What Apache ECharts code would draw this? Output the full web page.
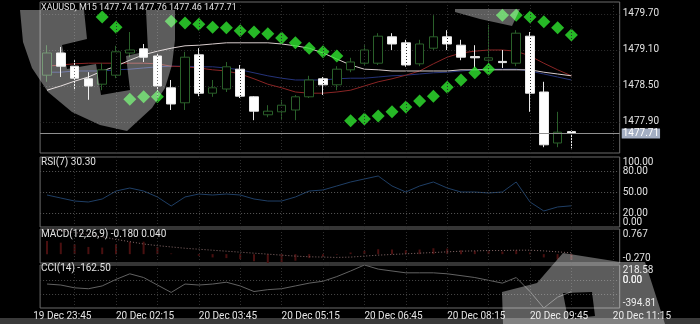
<!DOCTYPE html>
<html><head><meta charset="utf-8">
<script src="https://cdn.jsdelivr.net/npm/echarts@6/dist/echarts.min.js"></script>
<style>html,body{margin:0;padding:0;background:#000;}#c{width:700px;height:324px;}</style>
</head><body><div id="c"></div>
<script>
const symbolName = 'XAUUSD';
const timeframe = 'M15';
const times = ['19 Dec 23:45',
 '20 Dec 01:00','20 Dec 01:15','20 Dec 01:30','20 Dec 01:45','20 Dec 02:00','20 Dec 02:15','20 Dec 02:30','20 Dec 02:45',
 '20 Dec 03:00','20 Dec 03:15','20 Dec 03:30','20 Dec 03:45','20 Dec 04:00','20 Dec 04:15','20 Dec 04:30','20 Dec 04:45',
 '20 Dec 05:00','20 Dec 05:15','20 Dec 05:30','20 Dec 05:45','20 Dec 06:00','20 Dec 06:15','20 Dec 06:30','20 Dec 06:45',
 '20 Dec 07:00','20 Dec 07:15','20 Dec 07:30','20 Dec 07:45','20 Dec 08:00','20 Dec 08:15','20 Dec 08:30','20 Dec 08:45',
 '20 Dec 09:00','20 Dec 09:15','20 Dec 09:30','20 Dec 09:45','20 Dec 10:00','20 Dec 10:15','20 Dec 10:30','20 Dec 10:45',
 '20 Dec 11:00','20 Dec 11:15','20 Dec 11:30','20 Dec 11:45','20 Dec 12:00'];
const barTimes = times.slice(1, 43);

const opens = [1478.68,1479.05,1478.83,1478.62,1478.53,1478.68,1479.05,1479.12,1479.00,1478.47,
 1478.22,1479.02,1478.38,1478.45,1478.78,1478.32,1478.02,1478.07,1478.10,1478.32,
 1478.62,1478.52,1478.77,1478.88,1478.88,1479.32,1479.22,1478.87,1479.13,1479.32,
 1479.18,1478.99,1478.93,1478.91,1478.88,1479.33,1478.40,1477.55,1477.74];
const closes = [1479.05,1478.83,1478.63,1478.50,1478.77,1479.07,1479.10,1478.98,1478.50,1478.20,
 1478.98,1478.38,1478.47,1478.82,1478.33,1478.08,1478.08,1478.18,1478.32,1478.60,
 1478.52,1478.78,1478.90,1479.10,1479.33,1479.20,1478.85,1479.20,1479.32,1479.20,
 1478.98,1478.97,1478.97,1478.89,1479.38,1478.38,1477.52,1477.73,1477.71];
const highs = [1479.18,1479.15,1478.93,1478.73,1478.88,1479.17,1479.40,1479.20,1479.05,1478.60,
 1479.07,1479.13,1478.60,1478.90,1478.85,1478.33,1478.18,1478.27,1478.35,1478.67,
 1478.65,1478.83,1478.97,1479.18,1479.38,1479.38,1479.27,1479.27,1479.68,1479.43,
 1479.27,1479.18,1479.52,1479.10,1479.43,1479.40,1478.57,1478.07,1477.76];
const lows = [1478.57,1478.65,1478.43,1478.27,1478.43,1478.63,1478.98,1478.90,1478.32,1478.10,
 1478.10,1478.33,1478.32,1478.40,1478.30,1477.93,1477.98,1477.93,1477.93,1478.30,
 1478.35,1478.43,1478.73,1478.85,1478.85,1479.10,1478.82,1478.83,1479.10,1479.10,
 1478.93,1478.80,1478.68,1478.80,1478.83,1478.07,1477.48,1477.48,1477.46];

const maWhite = [1478.43,1478.50,1478.58,1478.65,1478.75,1478.83,1478.93,1479.02,1479.08,1479.13,
 1479.17,1479.18,1479.20,1479.22,1479.22,1479.22,1479.22,1479.20,1479.17,1479.13,
 1479.05,1478.95,1478.85,1478.78,1478.77,1478.75,1478.75,1478.75,1478.75,1478.75,
 1478.77,1478.77,1478.77,1478.77,1478.77,1478.77,1478.73,1478.70,1478.67];
const maRed = [1478.83,1478.85,1478.87,1478.88,1478.88,1478.88,1478.88,1478.88,1478.87,1478.83,
 1478.82,1478.80,1478.77,1478.75,1478.70,1478.62,1478.53,1478.47,1478.40,1478.38,
 1478.38,1478.40,1478.43,1478.50,1478.57,1478.62,1478.68,1478.75,1478.87,1478.98,
 1479.05,1479.08,1479.10,1479.10,1479.08,1479.00,1478.88,1478.77,1478.67];
const maBlue = [1478.73,1478.73,1478.75,1478.75,1478.75,1478.77,1478.78,1478.80,1478.82,1478.83,
 1478.83,1478.82,1478.82,1478.80,1478.77,1478.72,1478.67,1478.63,1478.60,1478.60,
 1478.60,1478.62,1478.63,1478.63,1478.65,1478.67,1478.68,1478.70,1478.72,1478.73,
 1478.75,1478.77,1478.78,1478.78,1478.78,1478.75,1478.70,1478.65,1478.60];
const sar = [null,null,null,null,1479.65,1479.48,1478.28,1478.32,1478.32,1479.58,
 1479.55,1479.53,1479.48,1479.47,1479.42,1479.40,1479.37,1479.30,1479.22,1479.13,
 1479.07,1479.00,1477.92,1477.95,1478.00,1478.07,1478.15,1478.25,1478.33,1478.48,
 1478.60,1478.72,1478.78,1479.68,1479.68,1479.65,1479.57,1479.47,1479.35];

const rsi = [45.7,41.4,37.1,35.7,40.0,51.4,55.7,51.4,42.9,30.0,
 42.9,47.1,45.7,47.1,45.7,40.0,37.1,37.1,42.9,51.4,
 52.9,58.6,64.3,68.6,72.9,58.6,50.0,58.6,64.3,55.7,
 50.0,50.0,48.6,50.0,64.3,35.7,22.9,28.6,30.3];
const macdMain = [0.40,0.35,0.30,0.22,0.20,0.30,0.38,0.38,0.22,0.02,
 0.00,-0.05,-0.10,-0.12,-0.15,-0.22,-0.27,-0.25,-0.20,-0.12,
 -0.08,-0.02,0.05,0.10,0.15,0.14,0.12,0.14,0.18,0.17,
 0.12,0.10,0.09,0.08,0.12,0.05,-0.10,-0.16,-0.18];
const macdSignal = [0.767,0.72,0.66,0.60,0.53,0.45,0.38,0.31,0.26,0.22,
 0.18,0.15,0.12,0.09,0.06,0.03,0.00,-0.03,-0.06,-0.08,
 -0.09,-0.10,-0.09,-0.06,-0.03,-0.01,0.01,0.03,0.05,0.07,
 0.09,0.10,0.11,0.11,0.12,0.12,0.10,0.07,0.04];
const cci = [-53,-67,-107,-120,-80,13,93,40,-67,-173,
 -53,-67,-53,-27,-80,-160,-133,-120,-80,-40,
 -13,53,133,218.58,160,133,107,107,107,93,
 67,40,0,-40,40,-160,-394.81,-240,-162.5];

const priceTicks = [1477.90, 1478.50, 1479.10, 1479.70];
const rsiEdgeTicks = [0, 100];
const rsiLevels = [20, 50, 80];
const macdTicks = [-0.270, 0.767];
const cciTicks = [-394.81, -200, 0, 218.58];
const cciZero = [0];
const cciLevels = [0, -200];
const gridCols = [2,5,8,11,14,17,20,23,26,29,32,35,38,41];

const FONT = 'Roboto, "Noto Sans", sans-serif';
const TXT = '#e2e2e2';
const BW = 13.8, L = 40.1, W = 42 * BW;
const last = closes.length - 1;
const CCI_MIN = -394.81, CCI_MAX = 218.58;

const candleData = opens.map((o, i) => [o, closes[i], lows[i], highs[i]]);
const vGrid = gridCols.map(i => ({ xAxis: barTimes[i] }));
const dimDot = { color: '#2e2e2e', type: [1, 2], width: 1 };

function yAx(grid, min, max, ticks, digits, edge, extra) {
  const lab = { customValues: ticks, color: TXT, fontSize: 10, fontFamily: FONT, margin: 3, hideOverlap: false,
      formatter: v => Number(v).toFixed(digits), showMinLabel: true, showMaxLabel: true };
  if (edge) { lab.verticalAlignMinLabel = 'bottom'; lab.verticalAlignMaxLabel = 'top'; }
  return Object.assign({
    gridIndex: grid, type: 'value', position: 'right', min: min, max: max,
    axisLine: { show: false, onZero: false }, axisTick: { show: false, customValues: ticks },
    splitLine: { show: false }, axisLabel: lab
  }, extra || {});
}
function xAx(grid) {
  return { gridIndex: grid, type: 'category', data: barTimes, boundaryGap: true,
    axisLine: { show: false, onZero: false }, axisTick: { show: false }, axisLabel: { show: false }, splitLine: { show: false } };
}

function keyhole(outer, holes) {
  let pts = outer.slice();
  pts.push(outer[0]);
  holes.forEach(h => {
    const r = h.slice().reverse();
    pts = pts.concat(r);
    pts.push(r[0]);
    pts.push(outer[0]);
  });
  return pts;
}
const WM = 'rgba(255,255,255,0.36)';
const logoLeft = keyhole(
  [[20,10],[175,10],[175,40],[172,65],[165,88],[152,108],[127,131],[100,125],[72,112],[48,92],[32,68],[23,42]],
  [[[84,10],[146,10],[148,51],[126,56],[130,90],[101,95],[96,64],[67,69],[62,45],[87,39]]]);
const logoBR = keyhole(
  [[502,292],[537,283],[563,253],[620,262],[645,262],[665,324],[503,324]],
  [[[563,293],[592,292],[595,316],[568,319]]]);
const logoTR = [[455,9],[520,9],[512,26],[480,19],[455,12]];

const chart = echarts.init(document.getElementById('c'), null, { renderer: 'canvas' });
chart.setOption({
  animation: false,
  backgroundColor: '#000',
  textStyle: { fontFamily: FONT },
  title: [
    { text: symbolName + ', ' + timeframe + ' ' + [opens[last], highs[last], lows[last], closes[last]].map(v => v.toFixed(2)).join(' '), left: 41, top: 3, fs: 9 },
    { text: 'RSI(7) ' + rsi[last].toFixed(2), left: 41, top: 157, fs: 10 },
    { text: 'MACD(12,26,9) ' + macdMain[last].toFixed(3) + ' ' + macdSignal[last].toFixed(3), left: 41, top: 229, fs: 10 },
    { text: 'CCI(14) ' + cci[last].toFixed(2), left: 41, top: 263, fs: 10 }
  ].map(t => Object.assign(t, { padding: 0, textStyle: { color: TXT, fontSize: t.fs, fontWeight: 'normal', fontFamily: FONT } })),
  grid: [
    { left: L, top: 2, width: W, height: 151 },
    { left: L, top: 157, width: W, height: 70 },
    { left: L, top: 229, width: W, height: 34 },
    { left: L, top: 265, width: W, height: 43 },
    { left: L - BW, top: 265, width: 46 * BW, height: 43, show: false },
    { left: L, top: 265, width: W, height: 43, show: false }
  ].map((g, i) => i < 4 ? Object.assign(g, { show: true, borderColor: '#6a6a6a', borderWidth: 1, backgroundColor: 'transparent' }) : g),
  xAxis: [xAx(0), xAx(1), xAx(2), xAx(3),
    { gridIndex: 4, type: 'category', data: times, boundaryGap: true,
      axisLine: { show: false, onZero: false }, axisTick: { show: false }, splitLine: { show: false },
      axisLabel: { interval: (idx) => idx % 6 === 0, align: 'left', color: TXT, fontSize: 10, fontFamily: FONT, margin: 3 } },
    xAx(5)
  ],
  yAxis: [
    yAx(0, 1477.3833, 1479.9, priceTicks, 2, false, { splitLine: { show: true, lineStyle: dimDot } }),
    yAx(1, 0, 100, rsiEdgeTicks, 2, true),
    yAx(2, -0.270, 0.767, macdTicks, 3, true),
    yAx(3, CCI_MIN, CCI_MAX, cciTicks, 2, true),
    { gridIndex: 4, type: 'value', show: false },
    yAx(1, 0, 100, rsiLevels, 2, false),
    yAx(5, CCI_MIN, CCI_MAX, cciZero, 2, false)
  ],
  graphic: [
    { type: 'rect', shape: { x: 0, y: 318, width: 700, height: 6 }, style: { fill: '#3a3a3a' }, z: -10, silent: true },
    { type: 'polygon', shape: { points: logoLeft }, style: { fill: WM }, z: 100, silent: true },
    { type: 'polygon', shape: { points: logoBR }, style: { fill: WM }, z: 100, silent: true },
    { type: 'polygon', shape: { points: logoTR }, style: { fill: WM }, z: 100, silent: true }
  ],
  series: [
    { type: 'line', xAxisIndex: 0, yAxisIndex: 0, data: maBlue, symbol: 'none', z: 2,
      lineStyle: { color: '#25337a', width: 1 },
      markLine: { silent: true, symbol: ['none', 'none'], label: { show: false }, lineStyle: dimDot, data: vGrid } },
    { type: 'line', xAxisIndex: 0, yAxisIndex: 0, data: maRed, symbol: 'none', z: 2,
      lineStyle: { color: '#8a2525', width: 1 } },
    { type: 'line', xAxisIndex: 0, yAxisIndex: 0, data: maWhite, symbol: 'none', z: 2,
      lineStyle: { color: '#d8cccc', width: 1 } },
    { type: 'candlestick', xAxisIndex: 0, yAxisIndex: 0, data: candleData, barWidth: 9, z: 3,
      itemStyle: { color: '#000', color0: '#ffffff', borderColor: '#2a602a', borderColor0: '#e8e8e8', borderWidth: 1 },
      markLine: { silent: true, symbol: ['none', 'none'],
        lineStyle: { color: '#8f8f8f', type: 'solid', width: 1 },
        label: { show: true, position: 'end', distance: 2, formatter: closes[last].toFixed(2),
          color: '#ffffff', backgroundColor: '#a3aec3', padding: [0, 1, 0, 1], fontSize: 10, fontFamily: FONT },
        data: [{ yAxis: closes[last] }] } },
    { type: 'scatter', xAxisIndex: 0, yAxisIndex: 0, data: sar, symbol: 'diamond', symbolSize: 13, z: 4,
      itemStyle: { color: '#2fe62f' } },

    { type: 'line', xAxisIndex: 1, yAxisIndex: 1, data: rsi, symbol: 'none',
      lineStyle: { color: '#1f3f66', width: 1 },
      markLine: { silent: true, symbol: ['none', 'none'], label: { show: false },
        data: rsiLevels.map(v => ({ yAxis: v, lineStyle: { color: '#5a5a5a', type: [1, 2], width: 1 } })).concat(vGrid.map(d => Object.assign({ lineStyle: dimDot }, d))) } },

    { type: 'bar', xAxisIndex: 2, yAxisIndex: 2, data: macdMain, barWidth: 2,
      itemStyle: { color: '#4a1010' } },
    { type: 'line', xAxisIndex: 2, yAxisIndex: 2, data: macdSignal, symbol: 'none',
      lineStyle: { color: '#8a6c6c', width: 1, type: [1, 2] },
      markLine: { silent: true, symbol: ['none', 'none'], label: { show: false }, lineStyle: dimDot, data: vGrid } },

    { type: 'line', xAxisIndex: 3, yAxisIndex: 3, data: cci, symbol: 'none',
      lineStyle: { color: '#626262', width: 1 },
      markLine: { silent: true, symbol: ['none', 'none'], label: { show: false },
        data: cciLevels.map(v => ({ yAxis: v, lineStyle: { color: '#4a4a4a', type: [1, 2], width: 1 } }))
          .concat(vGrid.map(d => Object.assign({ lineStyle: dimDot }, d))) } },

    { type: 'line', xAxisIndex: 4, yAxisIndex: 4, data: [] },
    { type: 'line', xAxisIndex: 5, yAxisIndex: 6, data: [] }
  ]
});
</script></body></html>
